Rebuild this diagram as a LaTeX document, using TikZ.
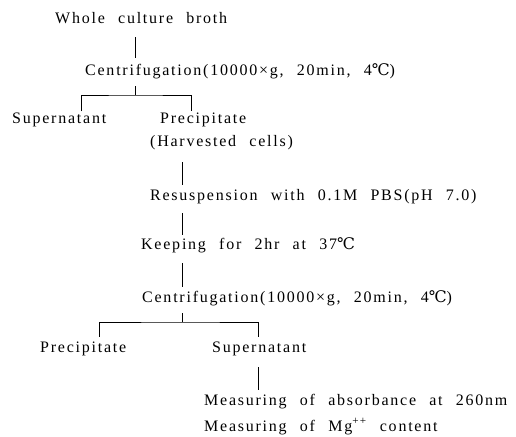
\documentclass[tikz,border=0pt]{standalone}
\usepackage{fontspec}
\setmainfont{Liberation Serif}[LetterSpace=11, WordSpace=2.3]
\newfontfamily\celsiusfont{DejaVu Serif}
\newcommand{\degc}{{\celsiusfont ℃}}

\begin{document}
\begin{tikzpicture}[x=1pt, y=-1pt,
        flowtext/.style={
                anchor=base west,
                inner sep=0pt,
                text height=12pt,
                text depth=4pt,
                font=\fontsize{16}{19}\selectfont,
        },
        link/.style={line width=0.6pt}]
            \useasboundingbox (0,0) rectangle (516,436);
            % first centrifugation
            \node[flowtext] (broth) at (55,23.5) {Whole culture broth};
            \node[flowtext] (cenA) at (85,75.5) {Centrifugation(10000×g, 20min, 4\degc)};
            \node[flowtext] (supA) at (12,123.5) {Supernatant};
            \node[flowtext] (preA) at (160,123.5) {Precipitate};
            \node[flowtext] (cells) at (150,146) {(Harvested cells)};
            \coordinate (forkA) at (135,95);
            \draw[link, shorten <=9.5pt, shorten >=5.5pt] (broth.south -| forkA) -- (cenA.north -| forkA);
            \draw[link, shorten <=6.5pt] (cenA.south -| forkA) -- (forkA);
            \draw[link] (supA.north -| 81,0) |- (forkA) -| (preA.north -| 191,0);
            % washing
            \node[flowtext] (resusp) at (150,200) {Resuspension with 0.1M PBS(pH 7.0)};
            \node[flowtext] (keep) at (141,249) {Keeping for 2hr at 37\degc};
            \node[flowtext] (cenB) at (142,302) {Centrifugation(10000×g, 20min, 4\degc)};
            \draw[link, shorten <=12pt, shorten >=3pt] (cells.south -| 182,0) -- (resusp.north -| 182,0);
            \draw[link, shorten <=9pt, shorten >=2pt] (resusp.south -| 182,0) -- (keep.north -| 182,0);
            \draw[link, shorten <=10pt, shorten >=3pt] (keep.south -| 182,0) -- (cenB.north -| 182,0);
            % second centrifugation
            \node[flowtext] (preB) at (40,352) {Precipitate};
            \node[flowtext] (supB) at (212,352) {Supernatant};
            \node[flowtext] (absorb) at (204,405) {Measuring of absorbance at 260nm};
            \node[flowtext] (magn) at (204,431) {Measuring of Mg\textsuperscript{++} content};
            \coordinate (forkB) at (182,322);
            \draw[link, shorten <=7pt] (cenB.south -| forkB) -- (forkB);
            \draw[link, shorten <=3pt, shorten >=3pt] (preB.north -| 99,0) |- (forkB) -| (supB.north -| 258,0);
            \draw[link, shorten <=11pt, shorten >=3pt] (supB.south -| 258,0) -- (absorb.north -| 258,0);
        \end{tikzpicture}
\end{document}
